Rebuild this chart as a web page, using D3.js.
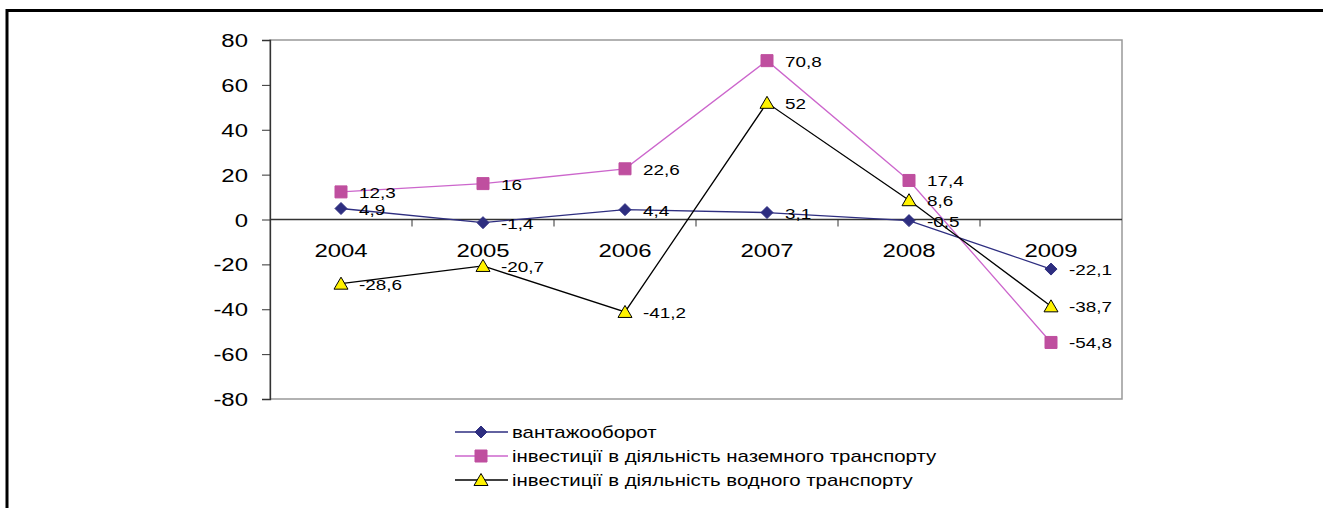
<!DOCTYPE html>
<html>
<head>
<meta charset="utf-8">
<script src="https://cdn.jsdelivr.net/npm/d3@7"></script>
<style>
  html, body { margin: 0; background: #fff; overflow: hidden; }
  svg { display: block; }
  text { font-family: "Liberation Sans", Arial, sans-serif; fill: #000; }
</style>
</head>
<body>
<div id="canvas"></div>
<script>
const years = ["2004", "2005", "2006", "2007", "2008", "2009"];
const cargo = [4.9, -1.4, 4.4, 3.1, -0.5, -22.1];
const landInvest = [12.3, 16, 22.6, 70.8, 17.4, -54.8];
const waterInvest = [-28.6, -20.7, -41.2, 52, 8.6, -38.7];
const yTicks = [-80, -60, -40, -20, 0, 20, 40, 60, 80];
const seriesNames = [
  "вантажооборот",
  "інвестиції в діяльність наземного транспорту",
  "інвестиції в діяльність водного транспорту",
];

const width = 1323;
const height = 508;
const margin = { top: 40, left: 270, bottom: 109, right: 201 };
const iwidth = width - margin.left - margin.right;
const iheight = height - margin.top - margin.bottom;
// the source picture is stretched sideways, so text gets a horizontal scale
const stretch = 1.26;

const series = [
  { name: seriesNames[0], values: cargo, line: "#2E2E80", fill: "#2E2E80", marker: "diamond" },
  { name: seriesNames[1], values: landInvest, line: "#CC66CC", fill: "#BF4F9F", marker: "square" },
  { name: seriesNames[2], values: waterInvest, line: "#000000", fill: "#FFF200", marker: "triangle" },
];

const svg = d3.select("#canvas").append("svg")
  .attr("width", width)
  .attr("height", height);

// outer frame, only top and left edges are in view
svg.append("path")
  .attr("d", `M7,${height}V10.5H${width}`)
  .attr("fill", "none").attr("stroke", "#000").attr("stroke-width", 3);

const g = svg.append("g")
  .attr("transform", `translate(${margin.left},${margin.top})`);

const x = d3.scaleBand().domain(years).range([0, iwidth]);
const y = d3.scaleLinear().domain([-80, 80]).range([iheight, 0]);
const cx = (i) => x(years[i]) + x.bandwidth() / 2;

function label(parent, tx, ty, size, anchor, str) {
  return parent.append("text")
    .attr("transform", `translate(${tx},${ty}) scale(${stretch},1)`)
    .attr("text-anchor", anchor)
    .style("font-size", size + "px")
    .text(str);
}

// plot area border
g.append("rect")
  .attr("x", 0).attr("y", 0)
  .attr("width", iwidth).attr("height", iheight)
  .attr("fill", "none").attr("stroke", "#999").attr("stroke-width", 1.5);

// y axis
const yAxis = g.append("g")
  .call(d3.axisLeft(y).tickValues(yTicks).tickSize(8).tickFormat(""));
yAxis.select(".domain").attr("stroke", "#333").attr("stroke-width", 1.3);
yAxis.selectAll(".tick line").attr("stroke", "#333");
yTicks.forEach((t) => label(g, -22, y(t) + 7, 19, "end", String(t)));

// x axis on zero line, ticks at category boundaries
const xAxis = g.append("g").attr("transform", `translate(0,${y(0)})`);
xAxis.append("line")
  .attr("x1", 0).attr("x2", iwidth)
  .attr("stroke", "#333").attr("stroke-width", 1.3);
xAxis.selectAll(".sep")
  .data(years.slice(1))
  .enter().append("line")
  .attr("x1", (d) => x(d)).attr("x2", (d) => x(d))
  .attr("y1", 0).attr("y2", 7)
  .attr("stroke", "#333");
years.forEach((yr, i) => label(xAxis, cx(i), 37, 19, "middle", yr));

function markerPath(type) {
  if (type === "diamond") return "M0,-6L6,0L0,6L-6,0Z";
  if (type === "square") return "M-6,-6H6V6H-6Z";
  return "M0,-6.5L7,5.5H-7Z";
}

const fmt = (v) => String(v).replace(".", ",");

series.forEach((s) => {
  const line = d3.line()
    .x((d, i) => cx(i))
    .y((d) => y(d));

  g.append("path")
    .datum(s.values)
    .attr("fill", "none")
    .attr("stroke", s.line)
    .attr("stroke-width", 1.3)
    .attr("d", line);
});

series.forEach((s) => {
  g.selectAll(null)
    .data(s.values)
    .enter().append("path")
    .attr("transform", (d, i) => `translate(${cx(i)},${y(d)})`)
    .attr("d", markerPath(s.marker))
    .attr("fill", s.fill)
    .attr("stroke", s.marker === "triangle" ? "#000" : s.fill)
    .attr("stroke-width", 1);

  s.values.forEach((v, i) => label(g, cx(i) + 18, y(v) + 6, 15, "start", fmt(v)));
});

// legend
const legend = svg.append("g").attr("transform", "translate(455,432)");
series.forEach((s, i) => {
  const row = legend.append("g").attr("transform", `translate(0,${i * 24})`);
  row.append("line")
    .attr("x1", 0).attr("x2", 53)
    .attr("stroke", s.line).attr("stroke-width", 1.3);
  row.append("path")
    .attr("transform", "translate(26,0)")
    .attr("d", markerPath(s.marker))
    .attr("fill", s.fill)
    .attr("stroke", s.marker === "triangle" ? "#000" : s.fill);
  label(row, 57, 5.5, 16.2, "start", s.name);
});
</script>
</body>
</html>
